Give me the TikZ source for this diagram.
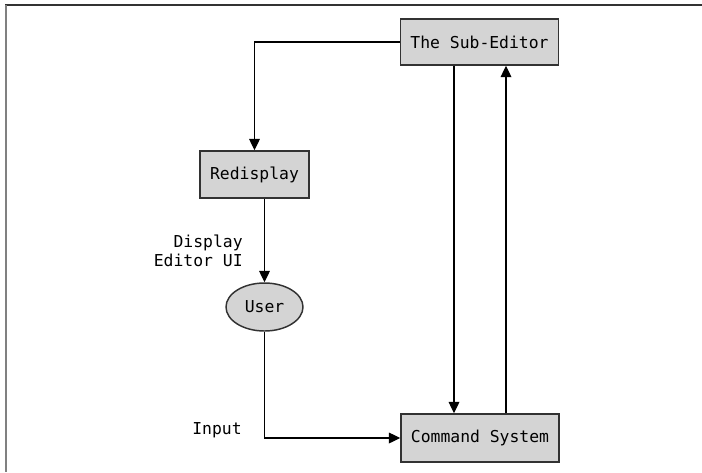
\documentclass[tikz,border=0pt]{standalone}
\usepackage{fontspec}
\setmonofont{DejaVu Sans Mono}
\usetikzlibrary{arrows.meta,shapes.geometric}
\definecolor{boxfill}{RGB}{212,212,212}
\definecolor{boxline}{RGB}{50,50,50}
\begin{document}
\begin{tikzpicture}[x=0.75pt,y=-0.75pt,
  box/.style={draw=boxline,fill=boxfill,line width=1.1pt,inner sep=0pt,font=\ttfamily\fontsize{12.3}{14.5}\selectfont},
  conn/.style={draw=black,line width=0.9pt,-{Triangle[length=8.5pt,width=8pt]}},
  lab/.style={font=\ttfamily\fontsize{12.3}{14}\selectfont,align=right,inner sep=0pt}]
\useasboundingbox (0,0) rectangle (702,472);
\draw[draw=boxline,line width=1.1pt] (5,5) -- (702,5);
\draw[draw=gray,line width=1.5pt] (6,5) -- (6,472);
\node[box,minimum width=158*0.75pt,minimum height=46*0.75pt] (sub) at (479.5,42) {The Sub-Editor};
\node[box,minimum width=109*0.75pt,minimum height=47*0.75pt] (red) at (254.5,174.5) {Redisplay};
\node[box,ellipse,minimum width=77*0.75pt,minimum height=48*0.75pt] (user) at (264.5,307) {User};
\node[box,minimum width=158*0.75pt,minimum height=48*0.75pt] (cmd) at (480,438) {Command System};
\draw[conn] (sub.west) -| (red.north);
\draw[conn] (red.south -| user.north) -- (user.north);
\draw[conn] (user.south) |- (cmd.west);
\draw[conn] (sub.south -| 454,0) -- (cmd.north -| 454,0);
\draw[conn] (cmd.north -| 506,0) -- (sub.south -| 506,0);
\node[lab,anchor=east] (disp) at (243,251) {Display\\Editor UI};
\node[lab,anchor=west] (inp) at (192,430) {Input};
\end{tikzpicture}
\end{document}
